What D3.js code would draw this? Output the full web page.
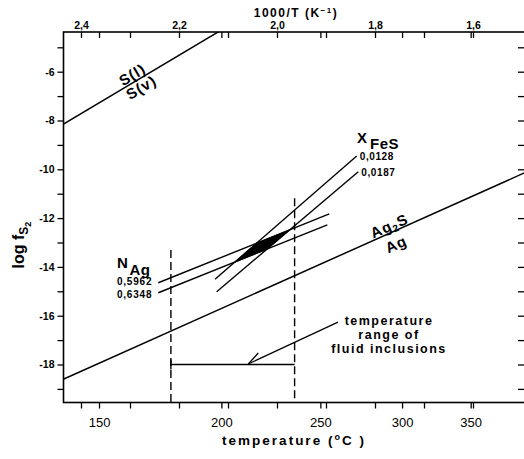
<!DOCTYPE html>
<html><head><meta charset="utf-8">
<script src="https://cdn.jsdelivr.net/npm/d3@7"></script>
<style>body{margin:0;background:#fff}svg{display:block}</style>
</head><body>
<svg id="c" width="524" height="459"></svg>
<script>
// ---------------- data ----------------
const invTicks   = [2.4, 2.3, 2.2, 2.1, 2.0, 1.9, 1.8, 1.7, 1.6];   // 1000/T (K^-1)
const invLabels  = [2.4, 2.2, 2.0, 1.8, 1.6];
const tempTicks  = [150, 200, 250, 300, 350];                        // °C
const logTicks   = [-19,-18,-17,-16,-15,-14,-13,-12,-11,-10,-9,-8,-7,-6,-5];
const logLabels  = [-18,-16,-14,-12,-10,-8,-6];
// lines as [1000/T, log fS2]
const sulfurLine = [[2.44, -8.20], [2.11, -4.25]];
const agLine     = [[2.44, -18.64], [1.49, -10.10]];
const xFeSLabels = ["0,0128", "0,0187"];
const xFeSLines  = [[[2.1265, -14.51], [1.8373, -9.455]],
                    [[2.1231, -15.02], [1.8341, -10.10]]];
const nAgLabels  = ["0,5962", "0,6348"];
const nAgLines   = [[[2.2422, -14.65], [1.8933, -11.83]],
                    [[2.2422, -15.06], [1.8973, -12.28]]];
const inclusionRange   = [178, 236];      // °C
const inclusionDashTop = [-13.31, -11.19];
const inclusionLevel   = -18;
const arrowFrom = [1.8755, -16.26];
const arrowTo   = [2.0586, -17.98];
const noteLines = ["temperature", "range of", "fluid inclusions"];

// ---------------- layout ----------------
const L = 63.5, R = 526, T = 32, B = 402.5;
const FONT = "'Liberation Sans', Arial, sans-serif";
const inv = t => 1000 / (t + 273.15);
const x = d3.scaleLinear().domain([2.4, 1.6]).range([81, 473]);
const y = d3.scaleLinear().domain([-18, -6]).range([364.5, 71.7]);
const line = d3.line().x(d => x(d[0])).y(d => y(d[1]));

const svg = d3.select("#c").style("font-family", FONT);
svg.append("defs").append("clipPath").attr("id", "clip")
  .append("rect").attr("x", L).attr("y", T).attr("width", R - L).attr("height", B - T);

function styleAxis(g, fs, fw) {
  g.select(".domain").remove();
  g.selectAll(".tick line").attr("stroke", "#000").attr("stroke-width", 1.3);
  g.selectAll(".tick text").attr("fill", "#000").style("font-family", FONT)
    .style("font-size", fs + "px").style("font-weight", fw);
}

// bottom axis
svg.append("g").attr("transform", `translate(0,${B})`)
  .call(d3.axisBottom(x).tickValues(tempTicks.map(inv)).tickSize(6).tickPadding(9)
        .tickFormat(d => Math.round(1000 / d - 273.15)))
  .call(g => styleAxis(g, 13, "normal"));
svg.append("g").attr("transform", `translate(0,${B})`)
  .call(d3.axisBottom(x).tickValues(invTicks).tickSize(6).tickFormat(""))
  .call(g => styleAxis(g, 10, "normal"));
// top axis
svg.append("g").attr("transform", `translate(0,${T})`)
  .call(d3.axisTop(x).tickValues(invTicks).tickSize(-6).tickPadding(3)
        .tickFormat(d => invLabels.includes(d) ? d.toFixed(1).replace(".", ",") : ""))
  .call(g => styleAxis(g, 10.5, "bold"));
svg.append("g").attr("transform", `translate(0,${T})`)
  .call(d3.axisTop(x).tickValues(tempTicks.map(inv)).tickSize(-6).tickFormat(""))
  .call(g => styleAxis(g, 10, "normal"));
// left axis
svg.append("g").attr("transform", `translate(${L},0)`)
  .call(d3.axisLeft(y).tickValues(logTicks).tickSize(6).tickPadding(3)
        .tickFormat(d => logLabels.includes(d) ? "-" + Math.abs(d) : ""))
  .call(g => styleAxis(g, 10.5, "bold"));
// right axis
svg.append("g").attr("transform", `translate(${R},0)`)
  .call(d3.axisRight(y).tickValues(logTicks).tickSize(-8).tickFormat(""))
  .call(g => styleAxis(g, 10, "normal"));

// frame
svg.append("rect").attr("x", L).attr("y", T).attr("width", R - L).attr("height", B - T)
  .attr("fill", "none").attr("stroke", "#000").attr("stroke-width", 1.6);

const plot = svg.append("g").attr("clip-path", "url(#clip)");
const drawLine = (d, w) => plot.append("path").attr("d", line(d)).attr("fill", "none")
  .attr("stroke", "#000").attr("stroke-width", w || 1.5);

drawLine(sulfurLine);
drawLine(agLine);
xFeSLines.forEach(l => drawLine(l, 1.4));
nAgLines.forEach(l => drawLine(l, 1.4));

// filled intersection of the two bands
function intersect(a, b) {
  const [p1, p2] = a, [p3, p4] = b;
  const d = (p1[0]-p2[0])*(p3[1]-p4[1]) - (p1[1]-p2[1])*(p3[0]-p4[0]);
  const t = ((p1[0]-p3[0])*(p3[1]-p4[1]) - (p1[1]-p3[1])*(p3[0]-p4[0])) / d;
  return [p1[0] + t*(p2[0]-p1[0]), p1[1] + t*(p2[1]-p1[1])];
}
const poly = [intersect(xFeSLines[0], nAgLines[1]), intersect(xFeSLines[0], nAgLines[0]),
              intersect(xFeSLines[1], nAgLines[0]), intersect(xFeSLines[1], nAgLines[1])];
plot.append("path").attr("d", line(poly) + "Z").attr("fill", "#000").attr("stroke", "#000").attr("stroke-width", 1);

// fluid inclusion temperature range
inclusionRange.forEach((t, i) => {
  plot.append("line").attr("x1", x(inv(t))).attr("x2", x(inv(t)))
    .attr("y1", y(inclusionDashTop[i])).attr("y2", B)
    .attr("stroke", "#000").attr("stroke-width", 1.4).attr("stroke-dasharray", "8,4");
});
plot.append("line").attr("x1", x(inv(inclusionRange[0]))).attr("x2", x(inv(inclusionRange[1])))
  .attr("y1", y(inclusionLevel)).attr("y2", y(inclusionLevel)).attr("stroke", "#000").attr("stroke-width", 1.6);
plot.append("line").attr("x1", x(inv(inclusionRange[0]))).attr("x2", x(inv(inclusionRange[0])))
  .attr("y1", y(inclusionLevel) - 5).attr("y2", y(inclusionLevel) + 5).attr("stroke", "#000").attr("stroke-width", 1.4);
// arrow
const ax1 = x(arrowFrom[0]), ay1 = y(arrowFrom[1]), ax2 = x(arrowTo[0]), ay2 = y(arrowTo[1]);
plot.append("line").attr("x1", ax1).attr("y1", ay1).attr("x2", ax2).attr("y2", ay2)
  .attr("stroke", "#000").attr("stroke-width", 1.3);
plot.append("line").attr("x1", ax2).attr("y1", ay2).attr("x2", ax2 + 10).attr("y2", ay2 - 11)
  .attr("stroke", "#000").attr("stroke-width", 1.3);

// note text
const note = svg.append("text").attr("text-anchor", "middle").style("font-size", "12.5px")
  .style("letter-spacing", "1.5px").style("font-weight", "bold");
noteLines.forEach((s, i) => note.append("tspan").attr("x", 389).attr("y", ay1 + 3 + i * 14).text(s));

// rotated line labels
function rotLabel(lineData, px, offset, build, fs) {
  const p1 = [x(lineData[0][0]), y(lineData[0][1])], p2 = [x(lineData[1][0]), y(lineData[1][1])];
  const a = Math.atan2(p2[1] - p1[1], p2[0] - p1[0]);
  const py = p1[1] + (px - p1[0]) * Math.tan(a);
  const t = svg.append("text").attr("text-anchor", "middle")
    .attr("transform", `translate(${px},${py}) rotate(${a * 180 / Math.PI})`)
    .attr("y", offset).style("font-size", fs + "px").style("font-weight", "bold").style("letter-spacing", "1px");
  build(t);
}
rotLabel(sulfurLine, 136, -2, t => t.text("S(l)"), 15);
rotLabel(sulfurLine, 137, 13.5, t => t.text("S(v)"), 15);
rotLabel(agLine, 392, -1.5, t => { t.append("tspan").text("Ag");
  t.append("tspan").attr("dy", 3).style("font-size", "10px").text("2");
  t.append("tspan").attr("dy", -3).text("S"); }, 15);
rotLabel(agLine, 391, 18, t => t.text("Ag"), 15);

// XFeS label
svg.append("text").attr("x", 357).attr("y", 143).style("font-size", "15px").style("font-weight", "bold").text("X");
svg.append("text").attr("x", 370).attr("y", 149).style("font-size", "15px").style("font-weight", "bold").style("letter-spacing", "0.5px").text("FeS");
xFeSLabels.forEach((s, i) => {
  const end = xFeSLines[i][1];
  svg.append("text").attr("x", x(end[0]) + 3).attr("y", y(end[1]) + 4)
    .style("font-size", "10px").style("font-weight", "bold").style("letter-spacing", "0.6px").text(s);
});
// NAg label
svg.append("text").attr("x", 117).attr("y", 268).style("font-size", "15px").style("font-weight", "bold").text("N");
svg.append("text").attr("x", 129.5).attr("y", 274.5).style("font-size", "15px").style("font-weight", "bold").style("letter-spacing", "0.5px").text("Ag");
nAgLabels.forEach((s, i) => {
  const st = nAgLines[i][0];
  svg.append("text").attr("x", x(st[0]) - 6).attr("y", y(st[1]) + 2 + i * 3.5).attr("text-anchor", "end")
    .style("font-size", "10px").style("font-weight", "bold").style("letter-spacing", "0.8px").text(s);
});

// axis titles
const tt = svg.append("text").attr("x", 296).attr("y", 17).attr("text-anchor", "middle")
  .style("font-size", "12px").style("font-weight", "bold").style("letter-spacing", "1.5px");
tt.append("tspan").text("1000/T (K");
tt.append("tspan").attr("dy", -4).style("font-size", "8px").text("−1");
tt.append("tspan").attr("dy", 4).text(")");

const bt = svg.append("text").attr("x", 294).attr("y", 445).attr("text-anchor", "middle")
  .style("font-size", "13.5px").style("font-weight", "bold").style("letter-spacing", "2px");
bt.append("tspan").text("temperature (");
bt.append("tspan").attr("dy", -5).style("font-size", "9px").text("o");
bt.append("tspan").attr("dy", 5).text("C )");

const yt = svg.append("text").attr("transform", "translate(24,245) rotate(-90)").attr("text-anchor", "middle")
  .style("font-size", "16px").style("font-weight", "bold");
yt.append("tspan").text("log f");
yt.append("tspan").attr("dy", 4).style("font-size", "12px").text("S");
yt.append("tspan").attr("dy", 3).style("font-size", "9px").text("2");
</script>
</body></html>
